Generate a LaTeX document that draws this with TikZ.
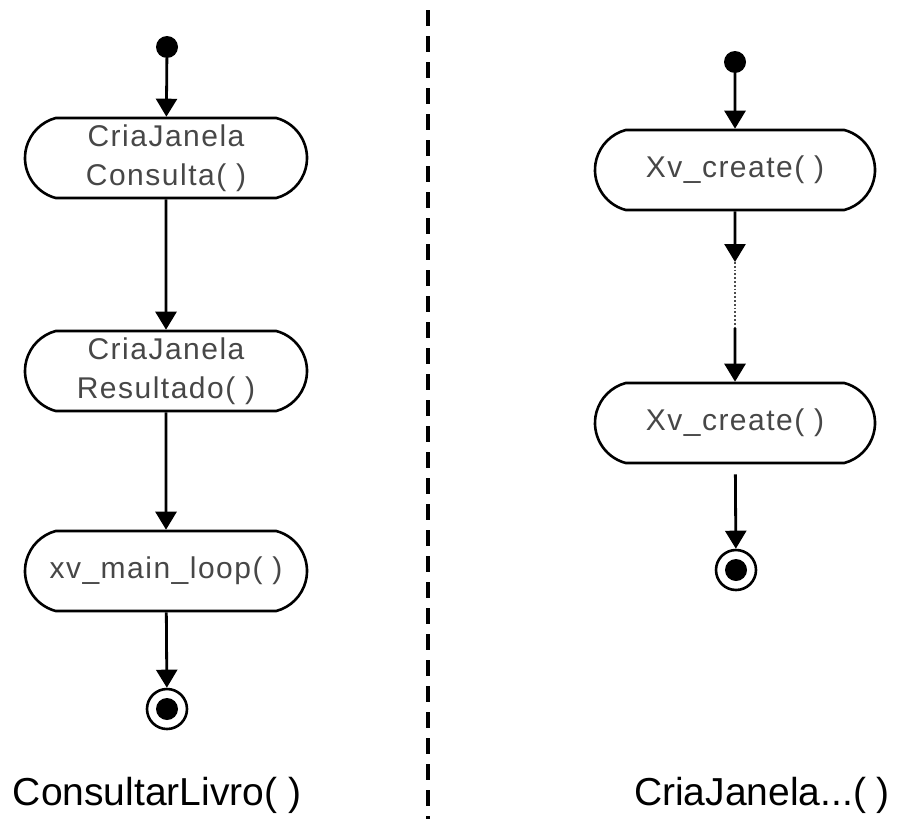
\documentclass[tikz,border=0pt]{standalone}
\usepackage{fontspec}
\setmainfont{Liberation Sans}
\usetikzlibrary{arrows.meta,shapes.misc}
\tikzset{
  atividade/.style={draw,line width=2.6pt,rounded rectangle,rounded rectangle arc length=150,
    minimum width=282pt,minimum height=80pt,inner sep=0pt,align=center,text=black!72,
    font=\fontsize{30}{39}\selectfont\addfontfeatures{LetterSpace=5}},
  inicio/.style={circle,fill,inner sep=0pt,minimum size=22pt},
  fim/.style={circle,draw,line width=2.6pt,inner sep=0pt,minimum size=40pt,
    path picture={\fill (path picture bounding box.center) circle (11pt);}},
  fluxo/.style={draw,line width=2.8pt,-{Triangle[length=18pt,width=21pt]}},
  titulo/.style={font=\fontsize{39}{46}\selectfont}
}
\begin{document}
\begin{tikzpicture}[x=1pt,y=-1pt]
\useasboundingbox (0,0) rectangle (899,819);
% ConsultarLivro
\node[inicio] (iniA) at (167,47) {};
\node[atividade] (consulta) at (166,158) {CriaJanela\\Consulta( )};
\node[atividade] (resultado) at (166,371) {CriaJanela\\Resultado( )};
\node[atividade] (loop) at (166,571) {xv\_main\_loop( )};
\node[fim] (fimA) at (167,709) {};
\node[titulo] (tituloA) at (157,795) {ConsultarLivro( )};
\draw[fluxo] (iniA) -- (consulta);
\draw[fluxo] (consulta) -- (resultado);
\draw[fluxo] (resultado) -- (loop);
\draw[fluxo] (loop) -- (fimA);
% separador
\coordinate (sepTopo) at (428,10);
\coordinate (sepBase) at (428,819);
\draw[line width=3.5pt,dash pattern=on 16pt off 10pt] (sepTopo) -- (sepBase);
% CriaJanela...
\node[inicio] (iniB) at (735,62) {};
\node[atividade,minimum width=280pt] (criaUm) at (735,170) {Xv\_create( )};
\node[atividade,minimum width=280pt] (criaDois) at (735,423) {Xv\_create( )};
\node[fim] (fimB) at (736,570) {};
\node[titulo] (tituloB) at (762,795) {CriaJanela...( )};
\coordinate (pontoA) at (735,262);
\coordinate (pontoB) at (735,328);
\draw[fluxo] (iniB) -- (criaUm);
\draw[fluxo] (criaUm) -- (pontoA);
\draw[line width=1.8pt,dotted,black!70] (pontoA) -- (pontoB);
\draw[fluxo] (pontoB) -- (criaDois);
\draw[fluxo,shorten <=10pt] (criaDois) -- (fimB);
\end{tikzpicture}
\end{document}
